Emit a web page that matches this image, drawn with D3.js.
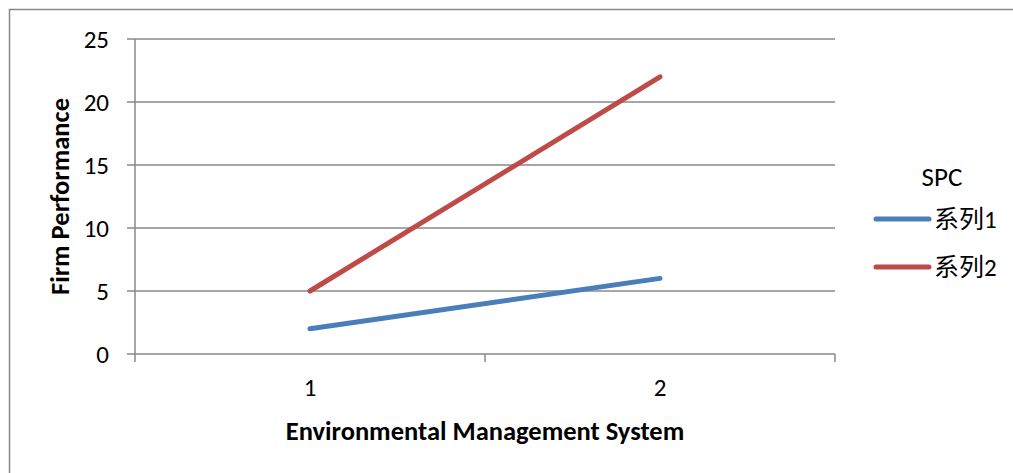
<!DOCTYPE html>
<html>
<head>
<meta charset="utf-8">
<script src="https://d3js.org/d3.v7.min.js"></script>
<style>
  body { margin: 0; background: #fff; }
  text { font-family: Calibri, Carlito, "Open Sans", sans-serif; fill: #000; }
</style>
</head>
<body>
<svg id="chart"></svg>
<script>
const categories = ["1", "2"];
const seriesNames = ["系列1", "系列2"];
const series1 = [2, 6];
const series2 = [5, 22];
const yTicks = [0, 5, 10, 15, 20, 25];
const colors = ["#4a7ebb", "#be4b48"];

const width = 1013;
const height = 473;
const margin = { top: 39, right: 178, bottom: 119, left: 135 };

const svg = d3.select("#chart").attr("width", width).attr("height", height);

// outer frame, runs off right and bottom edge
svg.append("rect")
  .attr("x", 9.5).attr("y", 9.5)
  .attr("width", width + 20).attr("height", height + 20)
  .attr("fill", "none").attr("stroke", "#888").attr("stroke-width", 1.5);

const x = d3.scaleBand()
  .domain(categories)
  .range([margin.left, width - margin.right]);

const y = d3.scaleLinear()
  .domain([0, 25])
  .range([height - margin.bottom, margin.top]);

// gridlines + y ticks
svg.append("g")
  .selectAll("line")
  .data(yTicks)
  .join("line")
  .attr("x1", margin.left - 8)
  .attr("x2", width - margin.right)
  .attr("y1", (d) => y(d))
  .attr("y2", (d) => y(d))
  .attr("stroke", "#888")
  .attr("stroke-width", 1.5);

svg.append("g")
  .selectAll("text")
  .data(yTicks)
  .join("text")
  .attr("x", margin.left - 26)
  .attr("y", (d) => y(d))
  .attr("dy", "0.35em")
  .attr("text-anchor", "end")
  .style("font-size", "25px")
  .text((d) => d);

// y axis line
svg.append("line")
  .attr("x1", margin.left).attr("x2", margin.left)
  .attr("y1", margin.top).attr("y2", y(0) + 8)
  .attr("stroke", "#888").attr("stroke-width", 1.5);

// x category boundary ticks
const bounds = categories.map((c) => x(c) + x.bandwidth());
svg.append("g")
  .selectAll("line")
  .data(bounds)
  .join("line")
  .attr("x1", (d) => d).attr("x2", (d) => d)
  .attr("y1", y(0)).attr("y2", y(0) + 8)
  .attr("stroke", "#888").attr("stroke-width", 1.5);

svg.append("g")
  .selectAll("text")
  .data(categories)
  .join("text")
  .attr("x", (d) => x(d) + x.bandwidth() / 2)
  .attr("y", y(0) + 33)
  .attr("dy", "0.35em")
  .attr("text-anchor", "middle")
  .style("font-size", "25px")
  .text((d) => d);

// axis titles
svg.append("text")
  .attr("x", (margin.left + width - margin.right) / 2)
  .attr("y", 431)
  .attr("dy", "0.35em")
  .attr("text-anchor", "middle")
  .style("font-size", "26.5px")
  .style("font-weight", "bold")
  .text("Environmental Management System");

svg.append("text")
  .attr("transform", `translate(60, ${(margin.top + y(0)) / 2}) rotate(-90)`)
  .attr("dy", "0.35em")
  .attr("text-anchor", "middle")
  .style("font-size", "26.5px")
  .style("font-weight", "bold")
  .text("Firm Performance");

// lines
const line = d3.line()
  .x((d, i) => x(categories[i]) + x.bandwidth() / 2)
  .y((d) => y(d));

[series1, series2].forEach((s, i) => {
  svg.append("path")
    .datum(s)
    .attr("d", line)
    .attr("fill", "none")
    .attr("stroke", colors[i])
    .attr("stroke-width", 5)
    .attr("stroke-linecap", "round");
});

// legend
svg.append("text")
  .attr("x", 942).attr("y", 177)
  .attr("dy", "0.35em")
  .attr("text-anchor", "middle")
  .style("font-size", "27px")
  .text("SPC");

const legend = svg.append("g")
  .selectAll("g")
  .data(seriesNames)
  .join("g")
  .attr("transform", (d, i) => `translate(0, ${219 + i * 48})`);

legend.append("line")
  .attr("x1", 876).attr("x2", 929)
  .attr("stroke", (d, i) => colors[i])
  .attr("stroke-width", 5)
  .attr("stroke-linecap", "round");

legend.append("text")
  .attr("x", 934)
  .attr("dy", "0.35em")
  .style("font-size", "25px")
  .style("font-family", "Calibri, Carlito, 'Noto Sans CJK SC', sans-serif")
  .text((d) => d);
</script>
</body>
</html>
